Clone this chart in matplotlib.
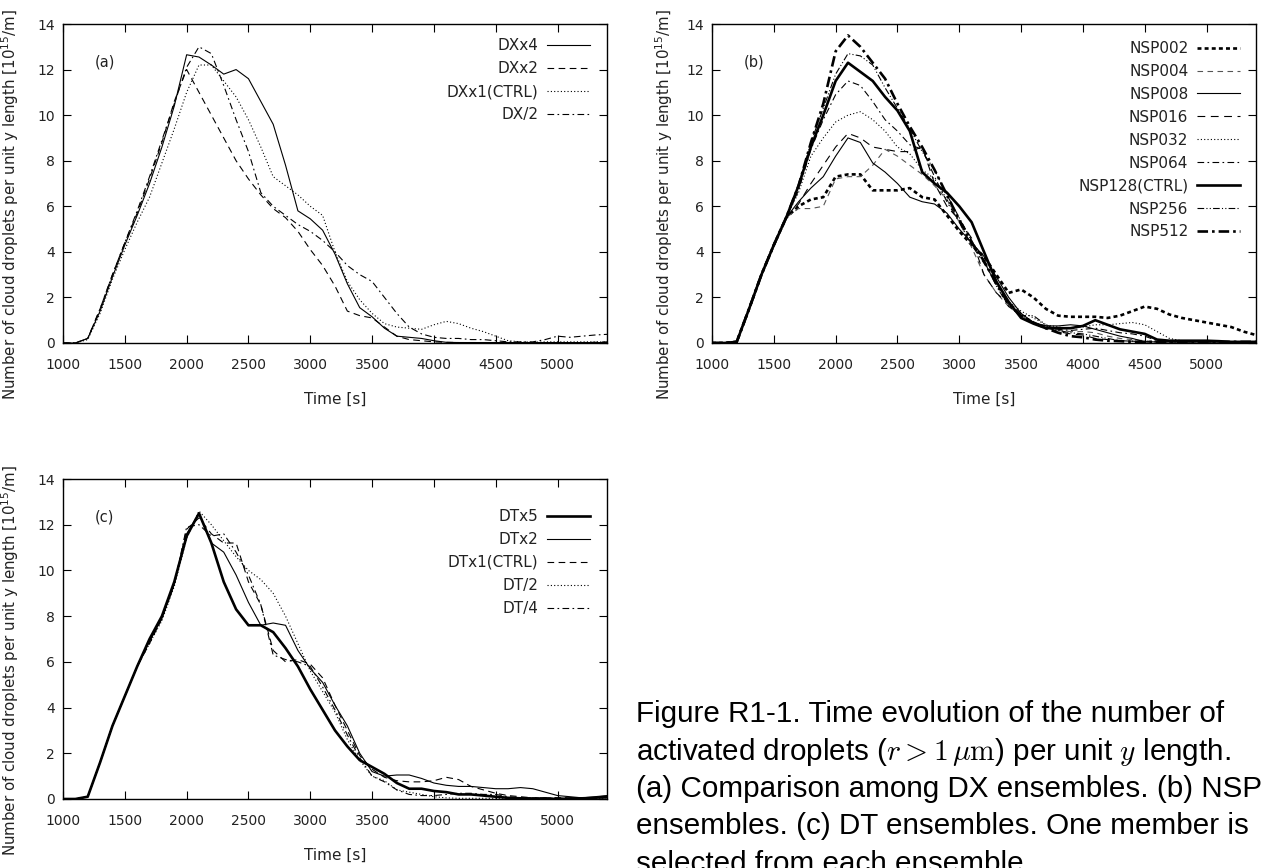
import matplotlib

matplotlib.use("Agg")
import matplotlib.pyplot as plt

# sampling times [s]
time = list(range(1000, 5500, 100))

# (a) DX ensembles
dxx4 = [0, 0, 0.2, 1.4, 2.9, 4.3, 5.6, 7.0, 8.6, 10.4,
        12.65, 12.55, 12.2, 11.8, 12.0, 11.6, 10.6, 9.6, 7.8, 5.8,
        5.45, 4.95, 3.9, 2.6, 1.55, 1.15, 0.65, 0.3, 0.25, 0.2,
        0.1, 0.03, 0.02, 0.02, 0.02, 0.02, 0.02, 0.02, 0.02, 0.02,
        0.02, 0.02, 0.02, 0.02, 0.02]
dxx2 = [0, 0, 0.2, 1.5, 3.0, 4.4, 5.7, 7.2, 8.8, 10.6,
        12.0, 11.0, 10.0, 9.0, 8.0, 7.2, 6.5, 5.9, 5.5, 4.9,
        4.1, 3.4, 2.5, 1.4, 1.2, 1.1, 0.7, 0.3, 0.15, 0.1,
        0.05, 0.03, 0.02, 0.02, 0.02, 0.02, 0.02, 0.02, 0.02, 0.02,
        0.02, 0.02, 0.02, 0.03, 0.05]
dxx1 = [0, 0, 0.15, 1.3, 2.8, 4.1, 5.3, 6.4, 7.9, 9.4,
        11.0, 12.2, 12.2, 11.5, 10.8, 9.8, 8.6, 7.3, 6.9, 6.5,
        6.0, 5.6, 4.0, 2.7, 1.9, 1.3, 0.85, 0.7, 0.65, 0.6,
        0.8, 0.95, 0.85, 0.65, 0.5, 0.3, 0.1, 0.05, 0.03, 0.05,
        0.05, 0.05, 0.05, 0.05, 0.05]
dx_2 = [0, 0, 0.2, 1.5, 3.0, 4.4, 5.8, 7.3, 8.9, 10.5,
        12.1, 13.0, 12.7, 11.3, 9.8, 8.4, 6.6, 6.0, 5.6, 5.2,
        4.9, 4.5, 4.0, 3.4, 3.0, 2.7, 2.0, 1.3, 0.7, 0.4,
        0.25, 0.2, 0.2, 0.15, 0.15, 0.1, 0.05, 0.05, 0.05, 0.15,
        0.3, 0.25, 0.3, 0.35, 0.38]

# (b) NSP ensembles
nsp002 = [0, 0, 0.05, 1.5, 3.0, 4.3, 5.5, 6.0, 6.3, 6.4,
          7.3, 7.4, 7.4, 6.7, 6.7, 6.7, 6.8, 6.4, 6.3, 5.6,
          4.9, 4.3, 3.8, 3.0, 2.2, 2.35, 2.0, 1.5, 1.2, 1.15,
          1.15, 1.15, 1.1, 1.2, 1.4, 1.6, 1.5, 1.25, 1.1, 1.0,
          0.9, 0.8, 0.7, 0.5, 0.35]
nsp004 = [0, 0, 0.05, 1.5, 3.0, 4.3, 5.5, 5.9, 5.9, 6.0,
          7.2, 7.3, 7.3, 7.8, 8.5, 8.2, 7.8, 7.4, 6.9, 6.3,
          5.3, 4.2, 3.0, 2.2, 1.6, 1.2, 0.9, 0.7, 0.55, 0.5,
          0.5, 0.45, 0.3, 0.2, 0.15, 0.1, 0.05, 0.05, 0.05, 0.05,
          0.05, 0.05, 0.05, 0.05, 0.05]
nsp008 = [0, 0, 0.05, 1.5, 3.0, 4.3, 5.5, 6.2, 6.8, 7.3,
          8.2, 9.0, 8.8, 7.9, 7.5, 7.0, 6.4, 6.2, 6.1, 5.7,
          5.0, 4.4, 3.8, 2.9, 2.0, 1.3, 0.9, 0.75, 0.75, 0.8,
          0.75, 0.6, 0.45, 0.3, 0.2, 0.05, 0.05, 0.05, 0.05, 0.05,
          0.05, 0.05, 0.05, 0.05, 0.05]
nsp016 = [0, 0, 0.05, 1.5, 3.0, 4.3, 5.5, 6.1, 7.0, 7.8,
          8.6, 9.2, 9.0, 8.6, 8.5, 8.4, 8.4, 8.6, 7.0, 6.0,
          5.4, 4.6, 3.0, 2.2, 1.7, 1.2, 0.9, 0.7, 0.5, 0.4,
          0.35, 0.2, 0.15, 0.1, 0.08, 0.05, 0.05, 0.05, 0.05, 0.05,
          0.05, 0.05, 0.05, 0.05, 0.05]
nsp032 = [0, 0, 0.05, 1.5, 3.0, 4.3, 5.5, 6.6, 8.2, 9.0,
          9.7, 10.0, 10.15, 9.8, 9.3, 8.6, 8.3, 7.6, 7.2, 6.3,
          5.4, 4.5, 3.6, 2.6, 1.8, 1.4, 1.1, 0.8, 0.7, 0.65,
          0.7, 0.8, 0.8, 0.85, 0.9, 0.8, 0.5, 0.2, 0.1, 0.08,
          0.05, 0.05, 0.05, 0.05, 0.05]
nsp064 = [0, 0, 0.05, 1.5, 3.0, 4.3, 5.5, 6.7, 8.5, 9.8,
          10.9, 11.5, 11.3, 10.6, 9.8, 9.3, 8.7, 8.5, 7.3, 6.2,
          5.3, 4.3, 3.5, 2.6, 1.8, 1.3, 0.9, 0.75, 0.6, 0.55,
          0.6, 0.65, 0.55, 0.45, 0.4, 0.3, 0.1, 0.05, 0.05, 0.05,
          0.05, 0.05, 0.05, 0.05, 0.05]
nsp128 = [0, 0, 0.05, 1.5, 3.0, 4.3, 5.5, 6.9, 8.6, 10.0,
          11.5, 12.3, 11.9, 11.5, 10.8, 10.2, 9.3, 7.5, 7.0, 6.6,
          6.0, 5.3, 4.0, 2.7, 1.8, 1.1, 0.85, 0.65, 0.65, 0.65,
          0.75, 1.0, 0.8, 0.6, 0.5, 0.4, 0.15, 0.1, 0.1, 0.1,
          0.1, 0.08, 0.05, 0.05, 0.05]
nsp256 = [0, 0, 0.05, 1.5, 3.0, 4.3, 5.5, 6.9, 8.8, 10.3,
          11.8, 12.7, 12.6, 12.2, 11.2, 10.3, 9.4, 8.4, 7.6, 6.5,
          5.5, 4.5, 3.6, 2.5, 1.6, 1.2, 1.2, 0.8, 0.55, 0.45,
          0.4, 0.3, 0.2, 0.1, 0.08, 0.05, 0.05, 0.05, 0.05, 0.05,
          0.05, 0.05, 0.05, 0.05, 0.05]
nsp512 = [0, 0, 0.05, 1.5, 3.0, 4.3, 5.5, 6.9, 8.8, 10.5,
          12.8, 13.5, 13.0, 12.3, 11.6, 10.5, 9.5, 8.6, 7.6, 6.5,
          5.4, 4.4, 3.6, 2.6, 1.7, 1.2, 0.9, 0.65, 0.45, 0.3,
          0.25, 0.15, 0.1, 0.08, 0.05, 0.05, 0.05, 0.05, 0.05, 0.05,
          0.05, 0.05, 0.05, 0.05, 0.05]

# (c) DT ensembles
dtx5 = [0, 0, 0.1, 1.6, 3.2, 4.5, 5.8, 7.0, 8.0, 9.5,
        11.5, 12.5, 11.2, 9.5, 8.3, 7.6, 7.6, 7.3, 6.6, 5.8,
        4.8, 3.9, 3.0, 2.3, 1.7, 1.4, 1.1, 0.7, 0.45, 0.45,
        0.35, 0.3, 0.2, 0.2, 0.15, 0.1, 0.05, 0.03, 0.02, 0.02,
        0.0, 0.02, 0.03, 0.05, 0.1]
dtx2 = [0, 0, 0.1, 1.6, 3.2, 4.5, 5.8, 6.9, 7.9, 9.4,
        11.6, 12.5, 11.2, 10.8, 9.8, 8.6, 7.6, 7.7, 7.6, 6.5,
        5.7, 5.1, 4.1, 3.2, 2.0, 1.2, 1.0, 1.05, 1.05, 0.9,
        0.7, 0.6, 0.55, 0.55, 0.5, 0.45, 0.45, 0.5, 0.45, 0.3,
        0.15, 0.1, 0.05, 0.1, 0.15]
dtx1 = [0, 0, 0.1, 1.6, 3.2, 4.5, 5.8, 6.8, 7.9, 9.4,
        11.8, 12.3, 11.6, 11.2, 11.2, 9.5, 8.5, 6.5, 6.0, 6.1,
        5.9, 5.3, 4.1, 3.0, 1.9, 1.3, 0.95, 0.8, 0.75, 0.75,
        0.8, 0.95, 0.85, 0.55, 0.4, 0.25, 0.15, 0.1, 0.05, 0.05,
        0.05, 0.05, 0.05, 0.05, 0.05]
dt_2 = [0, 0, 0.1, 1.6, 3.2, 4.5, 5.8, 6.8, 7.8, 9.3,
        11.4, 12.6, 12.0, 11.3, 10.6, 10.0, 9.6, 9.0, 8.0, 6.8,
        5.6, 4.7, 3.8, 2.6, 1.7, 1.0, 0.8, 0.4, 0.3, 0.2,
        0.1, 0.05, 0.03, 0.03, 0.03, 0.03, 0.03, 0.03, 0.03, 0.03,
        0.03, 0.03, 0.03, 0.03, 0.03]
dt_4 = [0, 0, 0.1, 1.6, 3.2, 4.5, 5.8, 6.9, 7.9, 9.4,
        11.9, 12.0, 11.5, 11.6, 10.8, 9.8, 8.5, 6.3, 6.1, 6.0,
        5.8, 4.9, 3.9, 2.8, 1.8, 1.0, 0.75, 0.4, 0.2, 0.15,
        0.15, 0.2, 0.25, 0.25, 0.2, 0.2, 0.1, 0.05, 0.05, 0.05,
        0.05, 0.05, 0.05, 0.05, 0.05]

W, H = 1268, 868
THIN, THICK = 0.8, 1.9
TXT = "#222222"
YLABEL = "Number of cloud droplets per unit y length [10$^{15}$/m]"


def px_axes(fig, left, top, right, bottom):
    return fig.add_axes([left / W, 1 - bottom / H, (right - left) / W, (bottom - top) / H])


def style_axes(ax, tag, ylab_x, leg_anchor):
    ax.set_xlim(1000, 5400)
    ax.set_ylim(0, 14)
    ax.set_xticks(range(1000, 5001, 500))
    ax.set_yticks(range(0, 15, 2))
    ax.tick_params(direction="in", top=True, right=True, length=6, width=0.8,
                   labelsize=10, labelcolor=TXT, pad=6)
    ax.tick_params(axis="x", pad=11)
    for sp in ax.spines.values():
        sp.set_linewidth(1.0)
    ax.set_xlabel("Time [s]", fontsize=11, color=TXT)
    ax.xaxis.set_label_coords(0.5, -0.152)
    ax.set_ylabel(YLABEL, fontsize=10.8, color=TXT)
    ax.yaxis.set_label_coords(ylab_x, 0.433)
    ax.text(0.077, 0.88, tag, transform=ax.transAxes, fontsize=10.5, color=TXT,
            ha="center", va="center")
    ax.legend(loc="upper right", bbox_to_anchor=leg_anchor, frameon=False,
              markerfirst=False, fontsize=11, handlelength=2.8, handletextpad=0.6,
              labelspacing=0.52, borderpad=0, borderaxespad=0, labelcolor=TXT)


fig = plt.figure(figsize=(W / 100, H / 100), dpi=100)

ax_a = px_axes(fig, 63, 24, 607, 343)
ax_a.plot(time, dxx4, color="k", lw=THIN, ls="-", label="DXx4")
ax_a.plot(time, dxx2, color="k", lw=THIN, ls=(0, (6, 4)), label="DXx2")
ax_a.plot(time, dxx1, color="k", lw=THIN, ls=(0, (1, 2)), label="DXx1(CTRL)")
ax_a.plot(time, dx_2, color="k", lw=THIN, ls=(0, (6, 3, 1.5, 3)), label="DX/2")
style_axes(ax_a, "(a)", -0.077, (0.969, 0.955))

ax_b = px_axes(fig, 712, 24, 1256, 343)
ax_b.plot(time, nsp002, color="k", lw=THICK, ls=(0, (1.5, 1.2)), label="NSP002")
ax_b.plot(time, nsp004, color="#555555", lw=THIN, ls=(0, (5, 4)), label="NSP004")
ax_b.plot(time, nsp008, color="k", lw=THIN, ls="-", label="NSP008")
ax_b.plot(time, nsp016, color="k", lw=THIN, ls=(0, (7, 5)), label="NSP016")
ax_b.plot(time, nsp032, color="k", lw=THIN, ls=(0, (1, 2)), label="NSP032")
ax_b.plot(time, nsp064, color="k", lw=THIN, ls=(0, (6, 3, 1.5, 3)), label="NSP064")
ax_b.plot(time, nsp128, color="k", lw=THICK, ls="-", label="NSP128(CTRL)")
ax_b.plot(time, nsp256, color="k", lw=THIN, ls=(0, (6, 2, 1, 2, 1, 2)), label="NSP256")
ax_b.plot(time, nsp512, color="k", lw=THICK, ls=(0, (4, 1.5, 1, 1.5)), label="NSP512")
style_axes(ax_b, "(b)", -0.068, (0.971, 0.947))

ax_c = px_axes(fig, 63, 479, 607, 799)
ax_c.plot(time, dtx5, color="k", lw=THICK, ls="-", label="DTx5")
ax_c.plot(time, dtx2, color="k", lw=THIN, ls="-", label="DTx2")
ax_c.plot(time, dtx1, color="k", lw=THIN, ls=(0, (6, 4)), label="DTx1(CTRL)")
ax_c.plot(time, dt_2, color="k", lw=THIN, ls=(0, (1, 2)), label="DT/2")
ax_c.plot(time, dt_4, color="k", lw=THIN, ls=(0, (6, 3, 1.5, 3)), label="DT/4")
style_axes(ax_c, "(c)", -0.077, (0.969, 0.906))

caption = [
    "Figure R1-1. Time evolution of the number of",
    r"activated droplets ($r > 1\,\mu\mathrm{m}$) per unit $y$ length.",
    "(a) Comparison among DX ensembles. (b) NSP",
    "ensembles. (c) DT ensembles. One member is",
    "selected from each ensemble.",
]
for i, line in enumerate(caption):
    fig.text(636 / W, 1 - (714 + 37.5 * i) / H, line, fontsize=21.3,
             family="Liberation Sans", math_fontfamily="cm",
             ha="left", va="center", color="k")

fig.savefig("out.png", dpi=100)
